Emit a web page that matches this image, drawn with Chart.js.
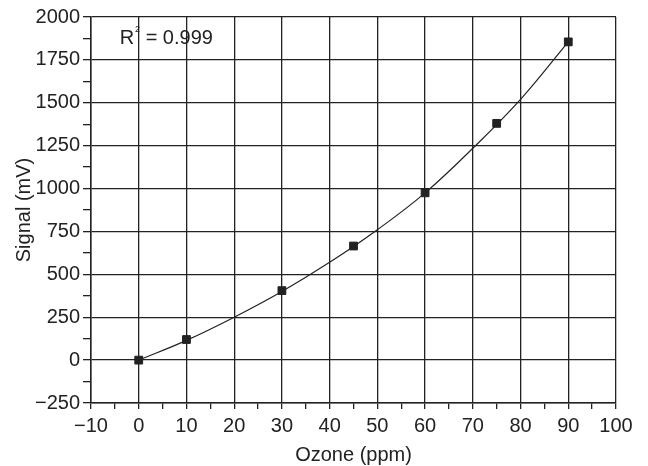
<!DOCTYPE html>
<html>
<head>
<meta charset="utf-8">
<script src="https://cdn.jsdelivr.net/npm/chart.js@4/dist/chart.umd.min.js"></script>
<style>
  html, body { margin: 0; padding: 0; background: #fff; }
  #wrap { width: 648px; height: 466px; position: relative; }
</style>
</head>
<body>
<div id="wrap"><canvas id="grafico"></canvas></div>
<script>
// Measured points
const ozone = [0, 10, 30, 45, 60, 75, 90];
const signal = [0, 120, 405, 665, 975, 1380, 1855];

// Fitted curve
const fitOzone = [0, 10, 20, 30, 40, 50, 60, 70, 80, 90];
const fitSignal = [0, 115, 250, 400, 570, 760, 975, 1235, 1520, 1855];

const rSquared = '0.999';
const ink = '#222';
const fonte = 'Liberation Sans, Arial, Helvetica, sans-serif';

// Draw the R² label in data coordinates
const rotuloR2 = {
  id: 'rotuloR2',
  afterDraw(chart) {
    const { ctx, scales } = chart;
    const x = scales.x.getPixelForValue(-4);
    const y = scales.y.getPixelForValue(1876);
    ctx.save();
    ctx.fillStyle = ink;
    ctx.textBaseline = 'middle';
    ctx.font = '20px ' + fonte;
    ctx.fillText('R', x, y);
    const w = ctx.measureText('R').width;
    ctx.font = '9px ' + fonte;
    ctx.fillText('2', x + w + 1, y - 9);
    ctx.font = '20px ' + fonte;
    ctx.fillText(' = ' + rSquared, x + w + 6, y);
    ctx.restore();
  }
};

const ctx = document.getElementById('grafico').getContext('2d');
new Chart(ctx, {
  type: 'scatter',
  data: {
    datasets: [
      {
        type: 'line',
        data: fitOzone.map((x, i) => ({ x: x, y: fitSignal[i] })),
        borderColor: ink,
        borderWidth: 1.2,
        pointRadius: 0,
        tension: 0.4,
        fill: false,
        order: 2
      },
      {
        data: ozone.map((x, i) => ({ x: x, y: signal[i] })),
        pointStyle: 'rect',
        pointRadius: 5.5,
        backgroundColor: ink,
        borderColor: ink,
        order: 1
      }
    ]
  },
  options: {
    responsive: true,
    maintainAspectRatio: false,
    animation: false,
    layout: { padding: { top: 17, right: 32, left: 12, bottom: 0 } },
    plugins: {
      legend: { display: false },
      tooltip: { enabled: false }
    },
    scales: {
      x: {
        type: 'linear',
        min: -10,
        max: 100,
        afterFit(scale) { scale.height = 63; },
        border: { color: ink, width: 1.5 },
        grid: {
          color: c => (c.tick && c.tick.value % 10 === 0) ? ink : 'rgba(0,0,0,0)',
          tickColor: ink,
          lineWidth: 1.3,
          tickLength: 6,
          drawTicks: true
        },
        ticks: {
          stepSize: 5,
          color: ink,
          font: { family: fonte, size: 20 },
          padding: 5,
          maxRotation: 0,
          autoSkip: false,
          callback: v => v % 10 === 0 ? String(v).replace('-', '\u2212') : ''
        },
        title: {
          display: true,
          text: 'Ozone (ppm)',
          color: ink,
          font: { family: fonte, size: 20, lineHeight: 1.05 },
          padding: { top: 0, bottom: 0 }
        }
      },
      y: {
        min: -250,
        max: 2000,
        afterFit(scale) { scale.width = 79; },
        border: { color: ink, width: 1.5 },
        grid: {
          color: c => (c.tick && c.tick.value % 250 === 0) ? ink : 'rgba(0,0,0,0)',
          tickColor: ink,
          lineWidth: 1.3,
          tickLength: 8,
          drawTicks: true
        },
        ticks: {
          stepSize: 125,
          color: ink,
          font: { family: fonte, size: 20 },
          padding: 3,
          autoSkip: false,
          callback: v => v % 250 === 0 ? String(v).replace('-', '\u2212') : ''
        },
        title: {
          display: true,
          text: 'Signal (mV)',
          color: ink,
          font: { family: fonte, size: 20 },
          padding: { top: 0, bottom: 0 }
        }
      }
    }
  },
  plugins: [rotuloR2]
});
</script>
</body>
</html>
